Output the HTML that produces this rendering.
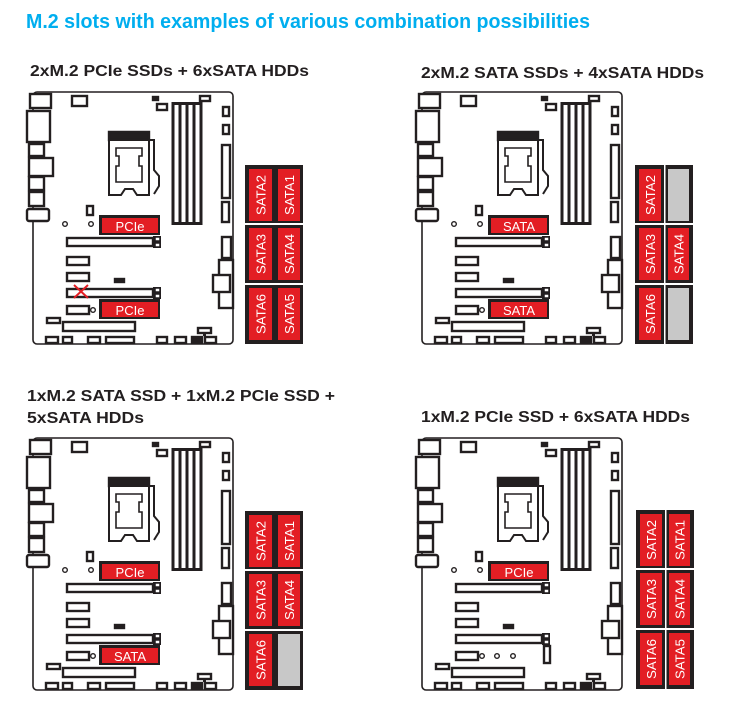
<!DOCTYPE html>
<html><head><meta charset="utf-8"><style>
html,body{margin:0;padding:0;background:#fff;}
svg{display:block;font-family:"Liberation Sans",sans-serif;}
</style></head><body>
<svg width="737" height="719" viewBox="0 0 737 719" xmlns="http://www.w3.org/2000/svg">
<defs>
<g id="board" fill="#fff" stroke="#231f20" stroke-width="2.4">
  <rect x="0" y="0" width="200" height="252" rx="4" stroke-width="1.6"/>
  <rect x="-3" y="2" width="21" height="14"/>
  <rect x="-6" y="19" width="23" height="31"/>
  <rect x="-4" y="52" width="15" height="12"/>
  <rect x="-4" y="66" width="24" height="18"/>
  <rect x="-4" y="85" width="15" height="13"/>
  <rect x="-4" y="100" width="15" height="14"/>
  <rect x="-6" y="117" width="22" height="12" rx="2"/>
  <rect x="39" y="4" width="15" height="10"/>
  <rect x="120" y="5" width="5" height="3" fill="#231f20"/>
  <rect x="124" y="12" width="10" height="6"/>
  <rect x="167" y="4" width="10" height="5"/>
  <rect x="138.5" y="10" width="31" height="123" fill="#231f20" stroke="none"/>
  <rect x="141.5" y="13" width="4" height="117" stroke="none"/>
  <rect x="148.5" y="13" width="4" height="117" stroke="none"/>
  <rect x="155.5" y="13" width="4" height="117" stroke="none"/>
  <rect x="162.5" y="13" width="4" height="117" stroke="none"/>
  <rect x="190" y="15" width="6" height="9"/>
  <rect x="190" y="33" width="6" height="9"/>
  <rect x="189" y="53" width="8" height="53"/>
  <rect x="189" y="110" width="7" height="20"/>
  <rect x="189" y="145" width="9" height="21"/>
  <rect x="186" y="168" width="14" height="48"/>
  <rect x="180" y="183" width="17" height="17"/>
  <path d="M76 40 h40 v8 h-40 z" fill="#231f20"/>
  <path d="M76 48 h40 v55 h-12 l-4 -6 h-8 l-4 6 h-12 z" stroke-width="2"/>
  <path d="M83 56 h26 v8 h-3 v10 h3 v16 h-26 v-16 h3 v-10 h-3 z" stroke-width="1.6"/>
  <path d="M116 48 h5 v30 l5 6 v10 l-5 8" fill="none" stroke-width="2"/>
  <rect x="54" y="114" width="6" height="9"/>
  <circle cx="32" cy="132" r="2.3" stroke-width="1.4"/>
  <circle cx="58" cy="132" r="2.3" stroke-width="1.4"/>
  <rect x="34" y="146" width="86" height="8"/>
  <rect x="120" y="144" width="8" height="12" fill="#231f20" stroke="none"/>
  <rect x="122" y="145" width="5" height="4" stroke-width="1.5"/>
  <rect x="122" y="151" width="5" height="4" stroke-width="1.5"/>
  <rect x="34" y="165" width="22" height="8"/>
  <rect x="34" y="181" width="22" height="8"/>
  <rect x="82" y="187" width="9" height="3" fill="#231f20"/>
  <rect x="34" y="197" width="86" height="8"/>
  <rect x="120" y="195" width="8" height="12" fill="#231f20" stroke="none"/>
  <rect x="122" y="196" width="5" height="4" stroke-width="1.5"/>
  <rect x="122" y="202" width="5" height="4" stroke-width="1.5"/>
  <rect x="34" y="214" width="22" height="8"/>
  <circle cx="60" cy="218" r="2.3" stroke-width="1.4"/>
  <rect x="14" y="226" width="13" height="5"/>
  <rect x="30" y="230" width="72" height="9"/>
  <rect x="165" y="236" width="13" height="5"/>
  <rect x="170" y="241" width="3" height="3" fill="#231f20" stroke="none"/>
  <rect x="13" y="245" width="12" height="6"/>
  <rect x="30" y="245" width="9" height="6"/>
  <rect x="55" y="245" width="12" height="6"/>
  <rect x="73" y="245" width="28" height="6"/>
  <rect x="124" y="245" width="10" height="6"/>
  <rect x="142" y="245" width="11" height="6"/>
  <rect x="159" y="245" width="10" height="6" fill="#231f20"/>
  <rect x="172" y="245" width="11" height="6"/>
</g>
<g id="lbl">
  <rect x="0" y="0" width="61" height="20" fill="#231f20"/>
  <rect x="3" y="3" width="56" height="15" fill="#e31e24"/>
</g>
<g id="panel">
  <rect x="0" y="0" width="58" height="179" fill="#231f20"/>
  <rect x="0" y="58" width="58" height="2" fill="#fff"/>
  <rect x="0" y="118" width="58" height="2" fill="#fff"/>
</g>
</defs>

<text x="26" y="28" font-size="20" font-weight="bold" fill="#00aeef" textLength="564" lengthAdjust="spacingAndGlyphs">M.2 slots with examples of various combination possibilities</text>
<text x="30" y="76" font-size="16" font-weight="bold" fill="#231f20" textLength="279" lengthAdjust="spacingAndGlyphs">2xM.2 PCIe SSDs + 6xSATA HDDs</text>
<text x="421" y="78" font-size="16" font-weight="bold" fill="#231f20" textLength="283" lengthAdjust="spacingAndGlyphs">2xM.2 SATA SSDs + 4xSATA HDDs</text>
<text x="27" y="401" font-size="16" font-weight="bold" fill="#231f20" textLength="308" lengthAdjust="spacingAndGlyphs">1xM.2 SATA SSD + 1xM.2 PCIe SSD +</text>
<text x="27" y="423" font-size="16" font-weight="bold" fill="#231f20" textLength="117" lengthAdjust="spacingAndGlyphs">5xSATA HDDs</text>
<text x="421" y="422" font-size="16" font-weight="bold" fill="#231f20" textLength="269" lengthAdjust="spacingAndGlyphs">1xM.2 PCIe SSD + 6xSATA HDDs</text>

<g transform="translate(33,92)">
  <use href="#board"/>
  <use href="#lbl" x="66" y="123"/><text x="97" y="139" font-size="13" fill="#fff" text-anchor="middle">PCIe</text>
  <use href="#lbl" x="66" y="207"/><text x="97" y="223" font-size="13" fill="#fff" text-anchor="middle">PCIe</text>
  <path d="M41 193 L55 206 M55 193 L41 206" stroke="#e31e24" stroke-width="2"/>
</g>
<g transform="translate(422,92)">
  <use href="#board"/>
  <use href="#lbl" x="66" y="123"/><text x="97" y="139" font-size="13" fill="#fff" text-anchor="middle">SATA</text>
  <use href="#lbl" x="66" y="207"/><text x="97" y="223" font-size="13" fill="#fff" text-anchor="middle">SATA</text>
</g>
<g transform="translate(33,438)">
  <use href="#board"/>
  <use href="#lbl" x="66" y="123"/><text x="97" y="139" font-size="13" fill="#fff" text-anchor="middle">PCIe</text>
  <use href="#lbl" x="66" y="207"/><text x="97" y="223" font-size="13" fill="#fff" text-anchor="middle">SATA</text>
</g>
<g transform="translate(422,438)">
  <use href="#board"/>
  <use href="#lbl" x="66" y="123"/><text x="97" y="139" font-size="13" fill="#fff" text-anchor="middle">PCIe</text>
  <g fill="#fff" stroke="#231f20" stroke-width="1.4">
    <circle cx="75" cy="218" r="2.3"/><circle cx="91" cy="218" r="2.3"/>
    <rect x="122" y="208" width="6" height="17" stroke-width="2.4"/>
  </g>
</g>

<g font-size="13" fill="#fff">
<g transform="translate(245,165)">
  <use href="#panel"/>
  <rect x="4" y="4" width="23" height="52" fill="#e31e24"/><rect x="33" y="4" width="22" height="52" fill="#e31e24"/>
  <rect x="4" y="63" width="23" height="52" fill="#e31e24"/><rect x="33" y="63" width="22" height="52" fill="#e31e24"/>
  <rect x="4" y="123" width="23" height="52" fill="#e31e24"/><rect x="33" y="123" width="22" height="52" fill="#e31e24"/>
  <text transform="translate(20.5,50) rotate(-90)" textLength="40" lengthAdjust="spacingAndGlyphs">SATA2</text>
  <text transform="translate(49,50) rotate(-90)" textLength="40" lengthAdjust="spacingAndGlyphs">SATA1</text>
  <text transform="translate(20.5,109) rotate(-90)" textLength="40" lengthAdjust="spacingAndGlyphs">SATA3</text>
  <text transform="translate(49,109) rotate(-90)" textLength="40" lengthAdjust="spacingAndGlyphs">SATA4</text>
  <text transform="translate(20.5,169) rotate(-90)" textLength="40" lengthAdjust="spacingAndGlyphs">SATA6</text>
  <text transform="translate(49,169) rotate(-90)" textLength="40" lengthAdjust="spacingAndGlyphs">SATA5</text>
</g>
<g transform="translate(635,165)">
  <use href="#panel"/><rect x="29" y="0" width="1.5" height="179" fill="#fff"/>
  <rect x="4" y="4" width="22" height="52" fill="#e31e24"/><rect x="33" y="4" width="21" height="52" fill="#c8c8c8"/>
  <rect x="4" y="63" width="22" height="52" fill="#e31e24"/><rect x="33" y="63" width="21" height="52" fill="#e31e24"/>
  <rect x="4" y="123" width="22" height="52" fill="#e31e24"/><rect x="33" y="123" width="21" height="52" fill="#c8c8c8"/>
  <text transform="translate(20,50) rotate(-90)" textLength="40" lengthAdjust="spacingAndGlyphs">SATA2</text>
  <text transform="translate(20,109) rotate(-90)" textLength="40" lengthAdjust="spacingAndGlyphs">SATA3</text>
  <text transform="translate(48.5,109) rotate(-90)" textLength="40" lengthAdjust="spacingAndGlyphs">SATA4</text>
  <text transform="translate(20,169) rotate(-90)" textLength="40" lengthAdjust="spacingAndGlyphs">SATA6</text>
</g>
<g transform="translate(245,511)">
  <use href="#panel"/>
  <rect x="4" y="4" width="23" height="52" fill="#e31e24"/><rect x="33" y="4" width="22" height="52" fill="#e31e24"/>
  <rect x="4" y="63" width="23" height="52" fill="#e31e24"/><rect x="33" y="63" width="22" height="52" fill="#e31e24"/>
  <rect x="4" y="123" width="23" height="52" fill="#e31e24"/><rect x="33" y="123" width="22" height="52" fill="#c8c8c8"/>
  <text transform="translate(20.5,50) rotate(-90)" textLength="40" lengthAdjust="spacingAndGlyphs">SATA2</text>
  <text transform="translate(49,50) rotate(-90)" textLength="40" lengthAdjust="spacingAndGlyphs">SATA1</text>
  <text transform="translate(20.5,109) rotate(-90)" textLength="40" lengthAdjust="spacingAndGlyphs">SATA3</text>
  <text transform="translate(49,109) rotate(-90)" textLength="40" lengthAdjust="spacingAndGlyphs">SATA4</text>
  <text transform="translate(20.5,169) rotate(-90)" textLength="40" lengthAdjust="spacingAndGlyphs">SATA6</text>
</g>
<g transform="translate(636,510)">
  <use href="#panel"/><rect x="29" y="0" width="1.5" height="179" fill="#fff"/>
  <rect x="4" y="4" width="22" height="52" fill="#e31e24"/><rect x="33" y="4" width="21" height="52" fill="#e31e24"/>
  <rect x="4" y="63" width="22" height="52" fill="#e31e24"/><rect x="33" y="63" width="21" height="52" fill="#e31e24"/>
  <rect x="4" y="123" width="22" height="52" fill="#e31e24"/><rect x="33" y="123" width="21" height="52" fill="#e31e24"/>
  <text transform="translate(20,50) rotate(-90)" textLength="40" lengthAdjust="spacingAndGlyphs">SATA2</text>
  <text transform="translate(48.5,50) rotate(-90)" textLength="40" lengthAdjust="spacingAndGlyphs">SATA1</text>
  <text transform="translate(20,109) rotate(-90)" textLength="40" lengthAdjust="spacingAndGlyphs">SATA3</text>
  <text transform="translate(48.5,109) rotate(-90)" textLength="40" lengthAdjust="spacingAndGlyphs">SATA4</text>
  <text transform="translate(20,169) rotate(-90)" textLength="40" lengthAdjust="spacingAndGlyphs">SATA6</text>
  <text transform="translate(48.5,169) rotate(-90)" textLength="40" lengthAdjust="spacingAndGlyphs">SATA5</text>
</g>
</g>
</svg>
</body></html>
